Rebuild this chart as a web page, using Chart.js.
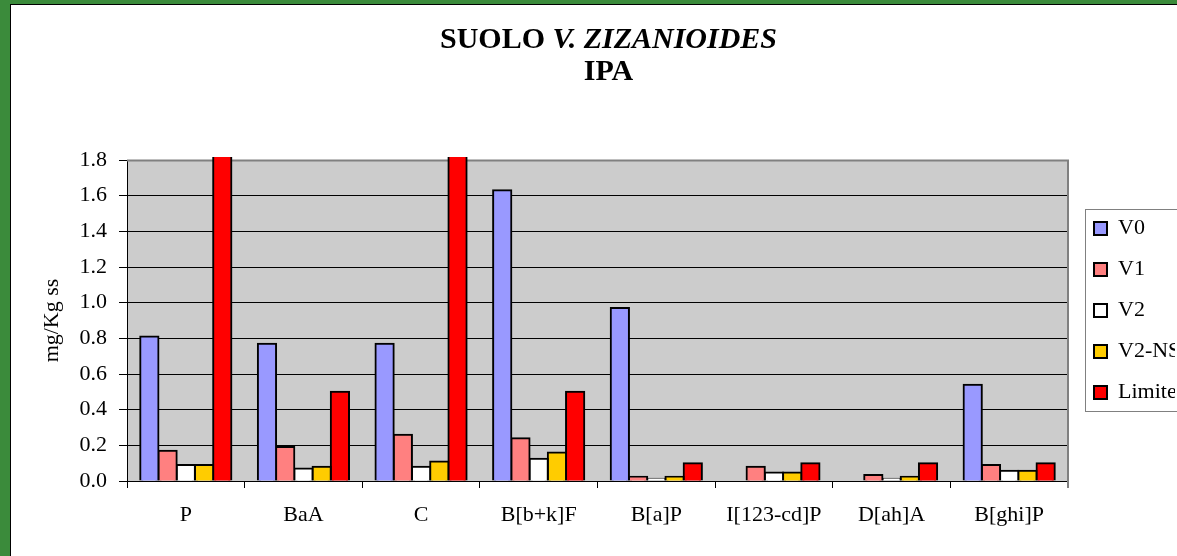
<!DOCTYPE html>
<html>
<head>
<meta charset="utf-8">
<title>Suolo V. zizanioides - IPA</title>
<script src="https://cdn.jsdelivr.net/npm/chart.js@4.4.1/dist/chart.umd.min.js"></script>
<style>
  body { margin: 0; background: #3b8b3b; overflow: hidden; }
  #sheet { position: absolute; left: 10px; top: 4px; width: 1400px; height: 700px; background: #fff;
           border-left: 1px solid #000; border-top: 1px solid #000; }
  #box { position: relative; width: 1195px; height: 560px; }
</style>
</head>
<body>
<div id="sheet"><div id="box"><canvas id="ipaChart"></canvas></div></div>
<script>
// IPA nel suolo (mg/Kg ss) per campionamento, con il limite di legge
const categories = ['P', 'BaA', 'C', 'B[b+k]F', 'B[a]P', 'I[123-cd]P', 'D[ah]A', 'B[ghi]P'];
const v0 = [0.81, 0.77, 0.77, 1.63, 0.97, null, null, 0.54];
const v1 = [0.17, 0.19, 0.26, 0.24, 0.024, 0.08, 0.034, 0.09];
const v2 = [0.09, 0.07, 0.08, 0.125, 0.013, 0.047, 0.013, 0.058];
const v2ns = [0.09, 0.08, 0.11, 0.16, 0.024, 0.047, 0.024, 0.058];
const limite = [5, 0.5, 5, 0.5, 0.1, 0.1, 0.1, 0.1];
const seriesNames = ['V0', 'V1', 'V2', 'V2-NS', 'Limite'];
const yTicks = [0, 0.2, 0.4, 0.6, 0.8, 1.0, 1.2, 1.4, 1.6, 1.8];
const titleMain = 'SUOLO ';
const titleItalic = 'V. ZIZANIOIDES';
const titleSub = 'IPA';
const yTitle = 'mg/Kg ss';

const FONT = "'Times New Roman', 'Liberation Serif', serif";

// sfondo grigio dell'area del grafico + bordo grigio sopra e a destra
const plotFrame = {
    id: 'plotFrame',
    beforeDraw(chart) {
        const { ctx, chartArea: a } = chart;
        ctx.save();
        ctx.fillStyle = '#cccccc';
        ctx.fillRect(a.left, a.top, a.right - a.left, a.bottom - a.top);
        ctx.restore();
    },
    beforeDatasetsDraw(chart) {
        const { ctx, chartArea: a } = chart;
        ctx.save();
        ctx.strokeStyle = '#808080';
        ctx.lineWidth = 2;
        ctx.beginPath();
        ctx.moveTo(a.left, a.top + 0.5);
        ctx.lineTo(a.right, a.top + 0.5);
        ctx.lineTo(a.right, a.bottom + 7);
        ctx.stroke();
        ctx.restore();
    }
};

// titolo su due righe, con il nome della specie in corsivo
const titleLines = {
    id: 'titleLines',
    afterDraw(chart) {
        const ctx = chart.ctx;
        const cx = chart.width / 2;
        const bold = 'bold 30px ' + FONT;
        const boldItalic = 'italic bold 30px ' + FONT;
        ctx.save();
        ctx.fillStyle = '#000';
        ctx.textBaseline = 'alphabetic';
        ctx.textAlign = 'left';
        ctx.font = bold;
        const w1 = ctx.measureText(titleMain).width;
        ctx.font = boldItalic;
        const w2 = ctx.measureText(titleItalic).width;
        const x = cx - (w1 + w2) / 2;
        ctx.font = bold;
        ctx.fillText(titleMain, x, 43);
        ctx.font = boldItalic;
        ctx.fillText(titleItalic, x + w1, 43);
        ctx.textAlign = 'center';
        ctx.font = bold;
        ctx.fillText(titleSub, cx, 75);
        ctx.restore();
    }
};

// sposta la legenda e le disegna la cornice
const legendFrame = {
    id: 'legendFrame',
    afterLayout(chart) {
        const lg = chart.legend;
        const a = chart.chartArea;
        lg.left = a.right + 7;
        lg.right = lg.left + lg.width;
        lg.top = a.top - 10;
        lg.bottom = a.bottom - 10;
    },
    afterDraw(chart) {
        const { ctx } = chart;
        const lg = chart.legend;
        const pad = lg.options.labels.padding;
        const fs = lg.options.labels.font.size;
        const n = lg.legendItems.length;
        const step = fs + pad;
        const y0 = (lg.top + pad + lg.bottom - n * step) / 2;
        const x = lg.left + pad - 9;
        const top = y0 - 9;
        const bottom = y0 + (n - 1) * step + fs + 7;
        ctx.save();
        ctx.strokeStyle = '#808080';
        ctx.lineWidth = 1;
        ctx.strokeRect(Math.round(x) + 0.5, Math.round(top) + 0.5, chart.width, Math.round(bottom - top));
        ctx.restore();
    }
};

function barSet(label, data, color) {
    return {
        label: label,
        data: data,
        backgroundColor: color,
        borderColor: '#000000',
        borderWidth: 2,
        inflateAmount: 1,
        clip: 3
    };
}

const ctx = document.getElementById('ipaChart').getContext('2d');
const ipaChart = new Chart(ctx, {
    type: 'bar',
    data: {
        labels: categories,
        datasets: [
            barSet(seriesNames[0], v0, '#9999ff'),
            barSet(seriesNames[1], v1, '#ff8080'),
            barSet(seriesNames[2], v2, '#ffffff'),
            barSet(seriesNames[3], v2ns, '#ffcc00'),
            barSet(seriesNames[4], limite, '#ff0000')
        ]
    },
    options: {
        responsive: true,
        maintainAspectRatio: false,
        animation: false,
        layout: {
            padding: { top: 155, left: 0, right: 38, bottom: 24 }
        },
        datasets: {
            bar: { categoryPercentage: 0.775, barPercentage: 1 }
        },
        plugins: {
            title: { display: false },
            tooltip: { enabled: false },
            legend: {
                position: 'right',
                fullSize: false,
                maxWidth: 100,
                labels: {
                    font: { family: FONT, size: 22 },
                    color: '#000',
                    boxWidth: 13,
                    boxHeight: 13,
                    padding: 19
                }
            }
        },
        scales: {
            x: {
                afterFit(scale) { scale.height = 60; },
                grid: { display: true, drawOnChartArea: false, drawTicks: true, tickLength: 7, color: '#000', lineWidth: 1 },
                border: { display: true, color: '#000', width: 1 },
                ticks: {
                    font: { family: FONT, size: 22 },
                    color: '#000',
                    padding: 14,
                    maxRotation: 0,
                    autoSkip: false
                }
            },
            y: {
                min: yTicks[0],
                max: yTicks[yTicks.length - 1],
                afterFit(scale) { scale.width = 116; },
                afterBuildTicks(scale) { scale.ticks = yTicks.map(v => ({ value: v })); },
                grid: { color: '#000', lineWidth: 1, tickLength: 8, drawTicks: true },
                border: { display: true, color: '#000', width: 1 },
                ticks: {
                    font: { family: FONT, size: 22 },
                    color: '#000',
                    padding: 12,
                    callback: v => Number(v).toFixed(1)
                },
                title: {
                    display: true,
                    text: yTitle,
                    font: { family: FONT, size: 22 },
                    color: '#000',
                    padding: { top: 28, bottom: 0 }
                }
            }
        }
    },
    plugins: [plotFrame, titleLines, legendFrame]
});
</script>
</body>
</html>
